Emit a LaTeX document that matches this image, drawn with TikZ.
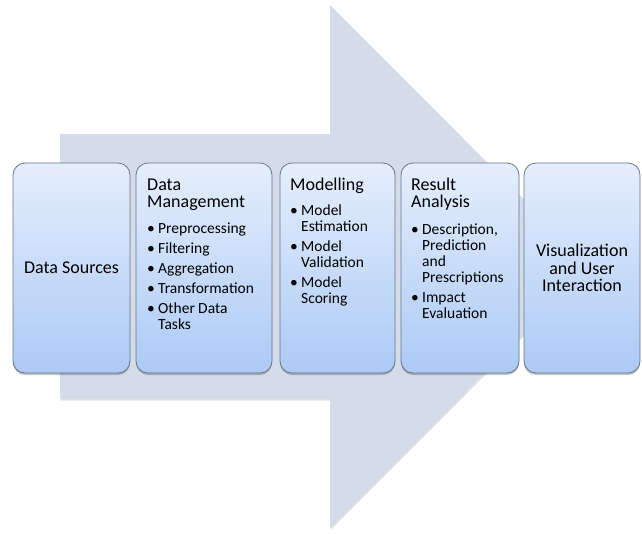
\documentclass[tikz,border=0pt]{standalone}
\usepackage{fontspec}
\setmainfont{Carlito}
\usetikzlibrary{shadows,calc}
\definecolor{arrowfill}{RGB}{213,220,233}
\definecolor{boxtop}{RGB}{229,238,252}
\definecolor{boxbot}{RGB}{172,202,245}
\definecolor{boxline}{RGB}{105,118,138}
\newcommand\hdfont{\fontsize{18}{17.5}\selectfont}
\newcommand\itfont{\fontsize{15.5}{16}\selectfont}
\newcommand\bitem[1]{\par\vspace{4pt}\hangindent=11pt\hangafter=1\noindent\makebox[11pt][l]{\textbullet}#1}
\tikzset{
  stage/.style={rectangle, rounded corners=12pt, draw=boxline, line width=0.8pt,
    top color=boxtop, bottom color=boxbot, minimum height=210pt, inner sep=0pt, outer sep=0pt,
    drop shadow={shadow xshift=0pt, shadow yshift=-2pt, opacity=0.35, fill=black!70},
    font=\hdfont, align=center},
  stagetext/.style={anchor=base west, inner sep=0pt, text width=140pt, align=left},
  bigarrow/.style={fill=arrowfill,
    drop shadow={shadow xshift=1pt, shadow yshift=-1.5pt, opacity=0.2, fill=black!60}}
}
\begin{document}
\begin{tikzpicture}[x=1pt,y=-1pt]
\useasboundingbox (0,0) rectangle (642,533);
\fill[bigarrow] (60,134) -- (330,134) -- (330,5) -- (591,266.5) -- (330,528) -- (330,399) -- (60,399) -- cycle;

\node[stage, minimum width=117pt] (b1) at (71.5,268) {Data Sources};
\node[stage, minimum width=136pt] (b2) at (204,268) {};
\node[stage, minimum width=115pt] (b3) at (337.5,268) {};
\node[stage, minimum width=118pt] (b4) at (460,268) {};
\node[stage, minimum width=116pt] (b5) at (582,268) {\fontsize{18}{19.5}\selectfont Visualization\\and User\\Interaction};

\node[stagetext] (t2) at ($(b2.north west)+(11,27)$) {%
  {\hdfont Data\newline Management\par}\vspace{6pt}\itfont
  \bitem{Preprocessing}\bitem{Filtering}\bitem{Aggregation}\bitem{Transformation}\bitem{Other Data\newline Tasks}\par};
\node[stagetext] (t3) at ($(b3.north west)+(10,27)$) {%
  {\hdfont Modelling\par}\vspace{5pt}\itfont
  \bitem{Model\newline Estimation}\bitem{Model\newline Validation}\bitem{Model\newline Scoring}\par};
\node[stagetext] (t4) at ($(b4.north west)+(10,27)$) {%
  {\hdfont Result\newline Analysis\par}\vspace{7pt}\itfont
  \bitem{Description,\newline Prediction\newline and\newline Prescriptions}\bitem{Impact\newline Evaluation}\par};
\end{tikzpicture}
\end{document}
